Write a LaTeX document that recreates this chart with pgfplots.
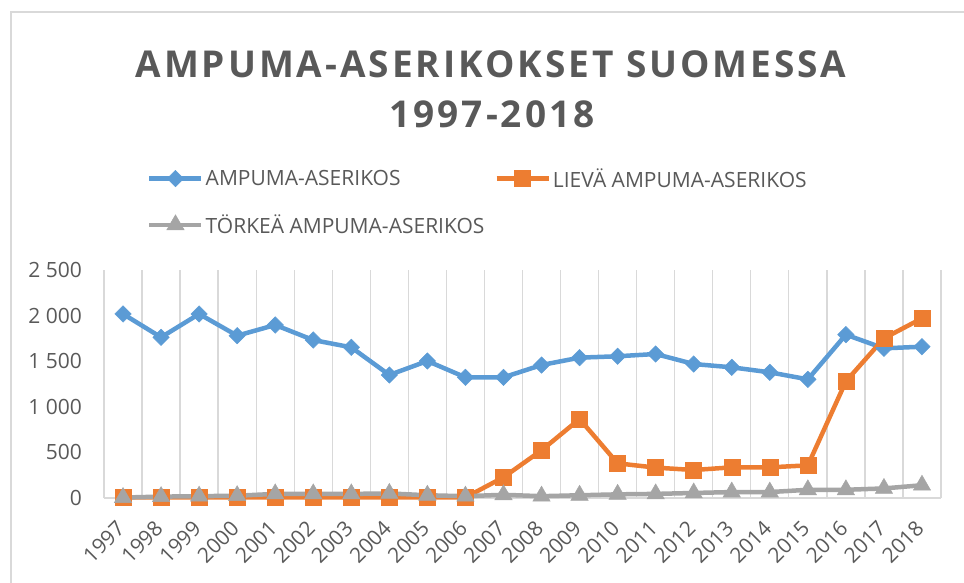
\documentclass[border=0pt]{standalone}
\usepackage{fontspec}
\setmainfont{Open Sans}
\newfontfamily\titlefont{Open Sans}[LetterSpace=8]
\usepackage{pgfplots}
\pgfplotsset{compat=1.18}
\definecolor{cblue}{HTML}{5B9BD5}
\definecolor{corange}{HTML}{ED7D31}
\definecolor{cgray}{HTML}{A5A5A5}
\definecolor{ctext}{HTML}{595959}
\definecolor{cgrid}{HTML}{D9D9D9}
\begin{document}
\begin{tikzpicture}
\useasboundingbox (0,0) rectangle (964bp,583bp);
\draw[cgrid, line width=1.5bp] (11bp,-10bp) -- (11bp,571bp) -- (990bp,571bp);
\node[text=ctext, font=\titlefont\bfseries\fontsize{37bp}{44bp}\selectfont] at (491bp,519bp) {AMPUMA-ASERIKOKSET SUOMESSA};
\node[text=ctext, font=\titlefont\bfseries\fontsize{37bp}{44bp}\selectfont] at (492bp,469bp) {1997-2018};
\begin{axis}[
  at={(104bp,85bp)}, anchor=south west,
  scale only axis, width=837bp, height=228bp,
  xmin=1996.5, xmax=2018.5, ymin=0, ymax=2500,
  axis x line*=bottom, axis y line*=left,
  axis line style={-, draw=cgrid, line width=1.3bp},
  xtick={1997,...,2018},
  xticklabels={1997,1998,1999,2000,2001,2002,2003,2004,2005,2006,2007,2008,2009,2010,2011,2012,2013,2014,2015,2016,2017,2018},
  minor xtick={1996.5,1997.5,...,2018.5},
  minor x grid style={draw=cgrid, line width=1.3bp},
  xminorgrids=true,
  major tick length=0pt, minor tick length=0pt,
  ytick={0,500,1000,1500,2000,2500},
  yticklabels={0,500,1 000,1 500,2 000,2 500},
  tick label style={text=ctext, font=\fontsize{21bp}{25bp}\selectfont},
  xticklabel style={anchor=east, inner sep=0pt, xshift=-2bp, yshift=-27bp, rotate=45},
  yticklabel style={anchor=east, inner sep=0pt, xshift=-22bp},
  legend columns=2,
  legend style={at={(0.0514,1.455)}, anchor=north west, draw=none, fill=none,
     font=\fontsize{21bp}{25bp}\selectfont, text=ctext,
     /tikz/every even column/.append style={column sep=8bp},
     row sep=22bp, inner sep=0pt},
  legend cell align=left,
  legend image code/.code={\draw[#1, mark repeat=2, mark phase=2] plot coordinates {(0bp,0bp) (26bp,0bp) (52bp,0bp)};},
  clip=false,
]
\addplot[cblue, line width=4.5bp, mark=square*, mark size=5.8bp, mark options={solid, rotate=45, line width=0.5bp, fill=cblue}] coordinates {
(1997,2018)(1998,1762)(1999,2018)(2000,1780)(2001,1897)(2002,1732)(2003,1652)(2004,1349)(2005,1502)(2006,1323)(2007,1323)(2008,1458)(2009,1539)(2010,1554)(2011,1579)(2012,1469)(2013,1433)(2014,1378)(2015,1301)(2016,1791)(2017,1641)(2018,1659)};
\addlegendentry{AMPUMA-ASERIKOS}
\addplot[corange, line width=4.5bp, mark=square*, mark size=8bp, mark options={solid, line width=0.5bp, fill=corange}] coordinates {
(1997,6)(1998,6)(1999,6)(2000,6)(2001,6)(2002,6)(2003,6)(2004,6)(2005,6)(2006,6)(2007,227)(2008,523)(2009,866)(2010,380)(2011,333)(2012,307)(2013,336)(2014,336)(2015,358)(2016,1279)(2017,1751)(2018,1970)};
\addlegendentry{LIEVÄ AMPUMA-ASERIKOS}
\addplot[cgray, line width=4.5bp, mark=triangle*, mark size=10bp, mark options={solid, line width=0.5bp, fill=cgray}] coordinates {
(1997,5)(1998,15)(1999,20)(2000,25)(2001,45)(2002,45)(2003,45)(2004,50)(2005,30)(2006,20)(2007,35)(2008,20)(2009,30)(2010,40)(2011,45)(2012,55)(2013,65)(2014,65)(2015,90)(2016,90)(2017,105)(2018,140)};
\addlegendentry{TÖRKEÄ AMPUMA-ASERIKOS}
\end{axis}
\end{tikzpicture}
\end{document}
